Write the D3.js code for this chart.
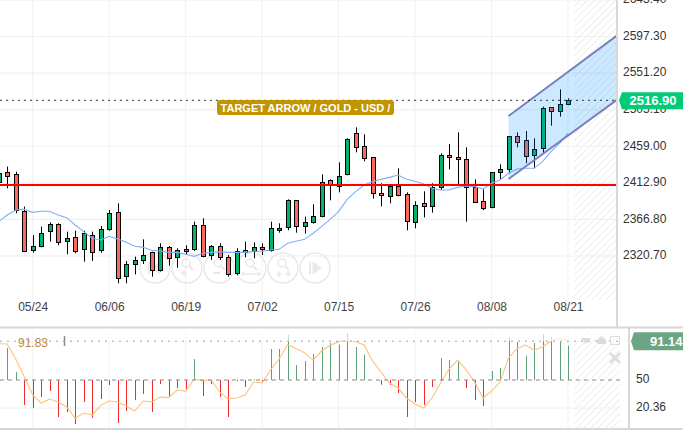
<!DOCTYPE html>
<html>
<head>
<meta charset="utf-8">
<script src="https://cdnjs.cloudflare.com/ajax/libs/d3/7.8.5/d3.min.js"></script>
<style>
html, body { margin: 0; padding: 0; background: #fff; overflow: hidden; }
text { font-family: "Liberation Sans", Arial, sans-serif; }
.axis path, .axis line { display: none; }
</style>
</head>
<body>
<div id="chart"></div>
<script>
// candles
const opens = [2414.4,2426.1,2423.6,2377.8,2327.9,2334.2,2351.8,2360.6,2338.8,2344.2,2329.1,2347.6,2327.9,2354.3,2375.7,2295.1,2310.2,2315.3,2325.3,2302.7,2331.6,2319.0,2329.1,2329.1,2359.4,2321.6,2332.9,2319.0,2298.9,2327.9,2326.6,2331.6,2327.9,2353.1,2356.8,2390.9,2358.1,2363.1,2370.7,2416.1,2408.5,2423.6,2475.3,2458.9,2445.0,2399.7,2395.9,2408.5,2398.4,2363.1,2387.1,2383.3,2407.2,2447.6,2445.0,2442.5,2407.2,2389.6,2382.0,2426.1,2429.9,2471.5,2466.5,2447.6,2456.4,2508.0,2503.0,2511.8];
const highs = [2429.1,2433.3,2427.0,2382.9,2347.2,2357.7,2363.1,2361.9,2351.4,2352.6,2352.6,2351.4,2358.5,2378.7,2387.1,2314.4,2319.9,2341.7,2326.2,2336.7,2333.3,2330.4,2334.2,2364.0,2368.2,2334.6,2336.7,2322.0,2330.4,2338.8,2337.9,2336.7,2364.0,2361.9,2392.1,2390.9,2370.3,2385.8,2423.6,2417.3,2438.7,2469.0,2482.8,2474.0,2445.0,2412.3,2408.5,2431.2,2400.9,2389.6,2402.2,2412.3,2450.1,2461.8,2476.5,2457.6,2417.3,2404.7,2426.1,2436.2,2471.5,2476.5,2478.2,2469.0,2508.9,2508.0,2530.7,2519.4];
const lows = [2412.3,2406.0,2374.5,2326.2,2324.9,2331.6,2338.8,2334.2,2322.8,2324.1,2313.6,2314.4,2324.9,2352.6,2286.3,2286.3,2297.6,2310.6,2294.7,2301.0,2308.5,2306.0,2323.2,2327.0,2319.0,2315.7,2315.7,2294.7,2296.4,2319.0,2317.8,2322.0,2326.2,2350.1,2353.1,2350.1,2348.9,2361.5,2369.4,2390.9,2400.9,2422.4,2451.3,2440.0,2393.0,2383.3,2387.1,2395.9,2353.1,2355.6,2369.4,2375.3,2403.9,2429.9,2410.2,2364.0,2387.9,2378.3,2380.8,2416.5,2424.9,2457.6,2437.5,2431.2,2450.1,2484.9,2496.3,2510.6];
const closes = [2425.7,2420.7,2378.7,2327.9,2332.9,2350.1,2360.6,2337.9,2343.0,2326.6,2349.3,2326.6,2354.3,2374.5,2292.6,2310.2,2315.3,2321.6,2302.7,2331.6,2317.8,2327.9,2326.2,2359.4,2320.3,2332.9,2319.0,2297.6,2326.6,2325.3,2331.6,2329.1,2355.6,2355.6,2390.9,2358.1,2363.1,2370.7,2413.5,2411.0,2421.1,2467.7,2457.6,2443.8,2399.7,2397.2,2408.5,2397.2,2364.4,2384.6,2383.3,2407.2,2447.6,2445.0,2442.5,2407.2,2388.3,2380.8,2426.1,2429.9,2471.5,2463.9,2446.3,2455.1,2506.8,2503.0,2511.8,2516.9];

// moving average
const maValues = [2364.0,2372.4,2378.7,2379.5,2375.7,2377.0,2377.0,2372.4,2369.0,2359.8,2351.4,2343.0,2340.9,2345.5,2342.1,2337.9,2332.9,2331.6,2327.9,2327.0,2325.3,2325.3,2322.8,2320.3,2324.1,2325.3,2326.2,2325.3,2325.3,2325.3,2326.6,2326.6,2328.3,2329.1,2336.7,2339.2,2341.7,2349.3,2357.7,2366.9,2376.6,2392.1,2401.8,2410.2,2414.4,2417.3,2419.8,2422.8,2417.3,2414.8,2411.4,2406.0,2403.9,2403.9,2407.2,2408.9,2408.1,2405.1,2412.3,2416.5,2424.9,2430.4,2431.2,2431.2,2439.6,2452.2,2462.7,2475.3];

// lower pane oscillator, bars hang off the 50 level
const oscBars = [91.0,83.8,58.4,23.5,20.3,32.0,38.3,10.8,16.1,3.4,26.7,9.8,29.9,44.7,4.5,17.2,28.8,35.2,16.1,45.7,32.0,41.5,40.4,72.2,33.0,45.7,32.0,10.8,48.9,42.6,51.0,47.9,82.8,82.8,97.9,65.8,70.1,77.5,84.9,89.1,87.4,99.7,84.9,76.8,50.0,45.0,44.7,36.2,10.8,26.7,23.5,42.6,73.2,71.1,70.1,41.5,28.8,22.5,59.5,62.7,95.5,90.2,75.7,89.1,98.6,95.5,90.2,86.3];
const oscLine = [88.4,88.1,72.2,53.8,34.1,25.6,29.9,26.7,21.4,9.4,15.0,12.9,23.2,27.8,26.7,22.5,17.2,27.8,26.7,32.0,31.3,39.4,38.3,51.0,49.3,50.0,37.3,29.9,30.9,34.1,47.9,46.8,60.9,72.2,87.3,83.1,78.9,71.1,80.7,86.7,90.5,91.9,90.5,87.0,70.1,58.4,46.8,41.5,30.9,24.6,20.3,30.9,46.8,61.6,71.1,60.9,47.9,30.9,38.3,47.9,73.2,83.1,87.0,81.7,84.9,91.2,94.4,91.9];

const dateLabels = ["05/24","06/06","06/19","07/02","07/15","07/26","08/08","08/21"];
const dateIndex = [4,13,22,31,40,49,58,67];
const priceTicks = [2320.7,2366.8,2412.9,2459.0,2505.1,2551.2,2597.3,2643.4];
const oscTicks = [50,20.36];

const lastPrice = 2516.9;
const lastOsc = 91.14;
const redLevel = 2410.2;
const channelIndex = [60,72.73];
const channelTop = [2497.1,2598.3];
const channelBottom = [2417.7,2517.3];

var svgWidth = 683;
var svgHeight = 430;
var plotRight = 616;
var topBottom = 300;
var lowTop = 328;
var lowBottom = 428;

var svg = d3.select("#chart")
.append("svg")
.attr("width", svgWidth)
.attr("height", svgHeight)
.style("display", "block");

var xScale = d3.scaleLinear().domain([4, 67]).range([32.7, 568]);
var yScale = d3.scaleLinear().domain([2320.7, 2597.3]).range([256, 36.5]);
var oscScale = d3.scaleLinear().domain([20.36, 50]).range([408, 380]);

var defs = svg.append("defs");
var hatch = defs.append("pattern")
.attr("id", "hatch")
.attr("width", 5)
.attr("height", 5)
.attr("patternUnits", "userSpaceOnUse")
.attr("patternTransform", "rotate(45)");
hatch.append("line")
.attr("x1", 0).attr("y1", 0).attr("x2", 0).attr("y2", 5)
.attr("stroke", "#eeeeee")
.attr("stroke-width", 2);

defs.append("clipPath").attr("id", "topClip").append("rect")
.attr("width", plotRight).attr("height", 327);

// hatched future area
svg.append("rect")
.attr("x", 574).attr("y", 0).attr("width", plotRight - 574).attr("height", topBottom)
.attr("fill", "url(#hatch)");
svg.append("rect")
.attr("x", 574).attr("y", lowTop).attr("width", 46).attr("height", lowBottom - lowTop)
.attr("fill", "url(#hatch)");

// grid
svg.append("g").selectAll("line")
.data(dateIndex)
.enter()
.append("line")
.attr("x1", d => xScale(d)).attr("x2", d => xScale(d))
.attr("y1", 0).attr("y2", topBottom)
.attr("stroke", "#f0f0f0");
svg.append("g").selectAll("line")
.data(dateIndex)
.enter()
.append("line")
.attr("x1", d => xScale(d)).attr("x2", d => xScale(d))
.attr("y1", lowTop).attr("y2", lowBottom)
.attr("stroke", "#f0f0f0");
svg.append("g").selectAll("line")
.data(priceTicks)
.enter()
.append("line")
.attr("x1", 0).attr("x2", plotRight)
.attr("y1", d => yScale(d)).attr("y2", d => yScale(d))
.attr("stroke", "#f0f0f0")
.attr("stroke-width", 1.2);
svg.append("line")
.attr("x1", 0).attr("x2", 620)
.attr("y1", oscScale(20.36)).attr("y2", oscScale(20.36))
.attr("stroke", "#f0f0f0");

// toolbar buttons under the candles
var buttons = svg.append("g").attr("fill", "none").attr("stroke", "#e9e9e9");
[155,187,219,251,283,315].forEach(function(cx, i) {
  var b = buttons.append("g").attr("transform", `translate(${cx}, 268)`);
  b.append("circle").attr("r", 15).attr("stroke-width", 1.5);
  if (i == 0) {
    b.append("path").attr("d", "M5,-6L-3,0L5,6Z").attr("fill", "#e9e9e9");
    b.append("path").attr("d", "M-6,-6V6").attr("stroke-width", 2);
  } else if (i == 5) {
    b.append("path").attr("d", "M-2,-6L6,0L-2,6Z").attr("fill", "#e9e9e9");
    b.append("path").attr("d", "M-5,-6V6").attr("stroke-width", 2);
  } else {
    b.append("circle").attr("cx", -1).attr("cy", -5).attr("r", 4).attr("stroke-width", 1.5);
    b.append("path").attr("d", "M2,-2L6,2").attr("stroke-width", 2);
    if (i == 1) b.append("path").attr("d", "M-6,5H0M-3,2V8").attr("stroke-width", 1.5);
    if (i == 2) b.append("path").attr("d", "M-6,5H1").attr("stroke-width", 2);
    if (i == 3) b.append("path").attr("d", "M-9,6H9M-7,4L-9,6L-7,8M7,4L9,6L7,8").attr("stroke-width", 1.5);
    if (i == 4) b.append("path").attr("d", "M-7,6H-1M-4,3V9M2,6H8M5,3V9").attr("stroke-width", 1.5);
  }
});

// candles
var chartGroup = svg.append("g").attr("clip-path", "url(#topClip)");
var candles = chartGroup.selectAll(".candle")
.data(opens)
.enter()
.append("g")
.attr("class", "candle");

candles.append("line")
.attr("x1", (d, i) => Math.round(xScale(i)) + 0.5)
.attr("x2", (d, i) => Math.round(xScale(i)) + 0.5)
.attr("y1", (d, i) => yScale(highs[i]))
.attr("y2", (d, i) => yScale(lows[i]))
.attr("stroke", "#000");

candles.append("rect")
.attr("x", (d, i) => Math.round(xScale(i)) - 1.5)
.attr("width", 4)
.attr("y", (d, i) => Math.round(yScale(Math.max(opens[i], closes[i]))) + 0.5)
.attr("height", (d, i) => Math.max(1, Math.round(Math.abs(yScale(opens[i]) - yScale(closes[i])))))
.attr("fill", (d, i) => closes[i] >= opens[i] ? "#00b56a" : "#fb6a5e")
.attr("stroke", "#000");

// moving average
var maLine = d3.line()
.x((d, i) => xScale(i))
.y(d => yScale(d));
chartGroup.append("path")
.attr("d", maLine(maValues))
.attr("fill", "none")
.attr("stroke", "#7cb0fb")
.attr("stroke-width", 1.1);

// rising channel
var channelArea = d3.area()
.x(d => xScale(d))
.y0((d, i) => yScale(channelBottom[i]))
.y1((d, i) => yScale(channelTop[i]));
chartGroup.append("path")
.attr("d", channelArea(channelIndex))
.attr("fill", "#0090ff")
.attr("fill-opacity", 0.2);
[channelTop, channelBottom].forEach(function(edge) {
  chartGroup.append("line")
  .attr("x1", xScale(channelIndex[0])).attr("x2", xScale(channelIndex[1]))
  .attr("y1", yScale(edge[0])).attr("y2", yScale(edge[1]))
  .attr("stroke", "#7b7dbd")
  .attr("stroke-width", 2);
});

// levels
chartGroup.append("line")
.attr("x1", 0).attr("x2", plotRight)
.attr("y1", yScale(redLevel)).attr("y2", yScale(redLevel))
.attr("stroke", "#ff0000")
.attr("stroke-width", 2);
chartGroup.append("line")
.attr("x1", 0).attr("x2", plotRight)
.attr("y1", yScale(lastPrice)).attr("y2", yScale(lastPrice))
.attr("stroke", "#333")
.attr("stroke-dasharray", "2,4");

// annotation
svg.append("rect")
.attr("x", 217).attr("y", 100).attr("width", 177).attr("height", 15).attr("rx", 3)
.attr("fill", "#c29500");
svg.append("text")
.attr("x", 305.5).attr("y", 111.5)
.attr("text-anchor", "middle")
.attr("fill", "#fff")
.style("font-size", "11px")
.style("font-weight", "bold")
.text("TARGET ARROW / GOLD - USD /");

// lower pane
svg.append("g").selectAll("line")
.data(oscBars)
.enter()
.append("line")
.attr("x1", (d, i) => Math.round(xScale(i)) + 0.5)
.attr("x2", (d, i) => Math.round(xScale(i)) + 0.5)
.attr("y1", oscScale(50))
.attr("y2", d => oscScale(d))
.attr("stroke", d => d >= 50 ? "#5f9f78" : "#ee2a2a");

var oscPath = d3.line()
.x((d, i) => xScale(i))
.y(d => oscScale(d));
svg.append("path")
.attr("d", oscPath(oscLine))
.attr("fill", "none")
.attr("stroke", "#fdc27a")
.attr("stroke-width", 1.1);

// paler zone above the last value
svg.append("rect")
.attr("x", 0).attr("y", lowTop).attr("width", 620).attr("height", oscScale(lastOsc) - lowTop)
.attr("fill", "#fff")
.attr("fill-opacity", 0.65);

svg.append("line")
.attr("x1", 0).attr("x2", 620)
.attr("y1", oscScale(lastOsc)).attr("y2", oscScale(lastOsc))
.attr("stroke", "#bdbdbd")
.attr("stroke-width", 1.5)
.attr("stroke-dasharray", "2,5");
svg.append("line")
.attr("x1", 0).attr("x2", 620)
.attr("y1", oscScale(50)).attr("y2", oscScale(50))
.attr("stroke", "#8a8a8a")
.attr("stroke-dasharray", "4,4");

svg.append("text")
.attr("x", 18).attr("y", 346.5)
.attr("fill", "#bd8a3c")
.style("font-size", "12px")
.text("91.83");
svg.append("line")
.attr("x1", 64.5).attr("x2", 64.5).attr("y1", 336).attr("y2", 346)
.attr("stroke", "#8a8a8a")
.attr("stroke-width", 1.5);

// pane controls
var controls = svg.append("g").attr("fill", "#dcdcdc");
controls.append("path").attr("d", "M581,338H591L586,344Z");
controls.append("path").attr("d", "M597,344V340L601.5,336L606,340V344Z");
controls.append("rect").attr("x", 610.5).attr("y", 336.5).attr("width", 9).attr("height", 8)
.attr("fill", "none").attr("stroke", "#dcdcdc");
controls.append("path").attr("d", "M610,353L620,363M620,353L610,363")
.attr("fill", "none").attr("stroke", "#dcdcdc").attr("stroke-width", 2.5);

// axes
var xAxis = d3.axisBottom(xScale)
.tickValues(dateIndex)
.tickFormat((d, i) => dateLabels[i])
.tickSize(0);
svg.append("g")
.attr("class", "axis")
.attr("transform", "translate(0, 299)")
.call(xAxis)
.selectAll("text")
.attr("fill", "#444")
.style("font-size", "12px");

var yAxis = d3.axisRight(yScale)
.tickValues(priceTicks)
.tickFormat(d3.format(".2f"))
.tickSize(0)
.tickPadding(7);
svg.append("g")
.attr("class", "axis")
.attr("transform", `translate(${plotRight}, -1)`)
.call(yAxis)
.selectAll("text")
.attr("fill", "#333")
.style("font-size", "12px");

var oscAxis = d3.axisRight(oscScale)
.tickValues(oscTicks)
.tickFormat(d => d)
.tickSize(0)
.tickPadding(6);
svg.append("g")
.attr("class", "axis")
.attr("transform", "translate(630, -1)")
.call(oscAxis)
.selectAll("text")
.attr("fill", "#333")
.style("font-size", "12px");

// borders
svg.append("line")
.attr("x1", plotRight + 1).attr("x2", plotRight + 1).attr("y1", 0).attr("y2", 327)
.attr("stroke", "#d8d8d8").attr("stroke-width", 2);
svg.append("line")
.attr("x1", 629).attr("x2", 629).attr("y1", 327).attr("y2", 430)
.attr("stroke", "#d8d8d8").attr("stroke-width", 2);
svg.append("line")
.attr("x1", 0).attr("x2", svgWidth).attr("y1", 327.5).attr("y2", 327.5)
.attr("stroke", "#d8d8d8").attr("stroke-width", 2);
svg.append("line")
.attr("x1", 0).attr("x2", svgWidth).attr("y1", 429).attr("y2", 429)
.attr("stroke", "#d8d8d8").attr("stroke-width", 2);

// last value tags
var priceY = yScale(lastPrice);
svg.append("path")
.attr("d", `M619,${priceY}L622,${priceY - 8}H683V${priceY + 9}H622Z`)
.attr("fill", "#00cc77");
svg.append("text")
.attr("x", 653).attr("y", priceY + 5)
.attr("text-anchor", "middle")
.attr("fill", "#fff")
.style("font-size", "13px")
.style("font-weight", "bold")
.text(d3.format(".2f")(lastPrice));

var oscY = oscScale(lastOsc);
svg.append("path")
.attr("d", `M631,${oscY}L634,${oscY - 9}H683V${oscY + 9}H634Z`)
.attr("fill", "#6ba583");
svg.append("text")
.attr("x", 650).attr("y", oscY + 4.5)
.attr("fill", "#fff")
.style("font-size", "13px")
.style("font-weight", "bold")
.text(lastOsc);
</script>
</body>
</html>
